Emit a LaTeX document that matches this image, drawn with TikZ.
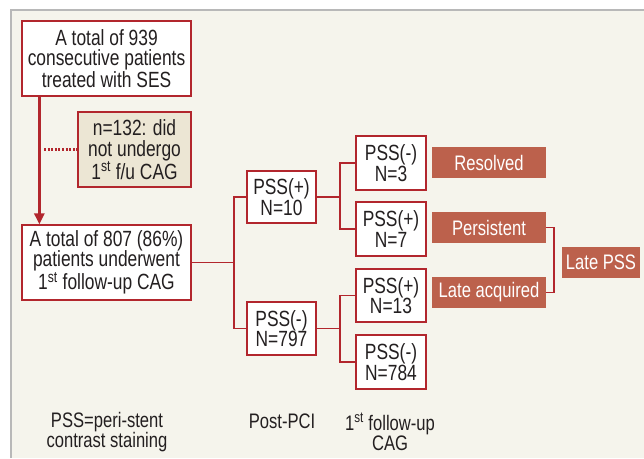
\documentclass[tikz,border=0pt]{standalone}
\usepackage{fontspec}
\setmainfont{Liberation Sans}[FakeStretch=0.79]
\usepackage{tikz}
\usetikzlibrary{arrows.meta}
\definecolor{bgbeige}{HTML}{F5F4EC}
\definecolor{framegrey}{HTML}{B8B8B8}
\definecolor{boxred}{HTML}{B2262D}
\definecolor{tanfill}{HTML}{ECE6D4}
\definecolor{outred}{HTML}{BC614C}
\definecolor{inkgrey}{HTML}{231F20}
\tikzstyle{box}=[draw=boxred,line width=1.3pt,fill=white,align=center,inner sep=0pt,text=inkgrey,font=\fontsize{22}{20.5}\selectfont]
\tikzstyle{tan box}=[box,fill=tanfill]
\tikzstyle{outcome}=[fill=outred,text=white,inner sep=0pt,minimum height=31pt,minimum width=114pt,font=\fontsize{21}{20}\selectfont]
\tikzstyle{edge}=[draw,line width=1.6pt,boxred]
\tikzstyle{caption}=[align=center,inner sep=0pt,text=inkgrey,font=\fontsize{21}{20}\selectfont]

\begin{document}
\begin{tikzpicture}[x=1pt,y=-1pt]
        \useasboundingbox (0,0) rectangle (644,458);
        % panel
        \fill[bgbeige] (11,10) rectangle (644,458);
        \draw[framegrey,line width=1.3pt] (11,458) -- (11,10) -- (644,10);
        % left column
        \node[box,minimum width=169pt,minimum height=75pt] (total939) at (106.5,58.5) {A total of 939\\consecutive patients\\treated with SES};
        \node[tan box,minimum width=113pt,minimum height=75pt] (n132) at (134.5,149.5) {n=132: did\\not undergo\\1\textsuperscript{st} f/u CAG};
        \node[box,minimum width=169pt,minimum height=75pt] (total807) at (106.5,262.5) {A total of 807 (86\%)\\patients underwent\\1\textsuperscript{st} follow-up CAG};
        % post-PCI
        \node[box,minimum width=69pt,minimum height=52pt] (pcipos) at (281.5,197) {PSS(+)\\N=10};
        \node[box,minimum width=69pt,minimum height=53pt] (pcineg) at (281.5,328.5) {PSS(-)\\N=797};
        % 1st follow-up CAG
        \node[box,minimum width=70pt,minimum height=54pt] (fuposneg) at (391,163) {PSS(-)\\N=3};
        \node[box,minimum width=70pt,minimum height=54pt] (fupospos) at (391,229) {PSS(+)\\N=7};
        \node[box,minimum width=70pt,minimum height=53pt] (funegpos) at (391,295.5) {PSS(+)\\N=13};
        \node[box,minimum width=70pt,minimum height=54pt] (funegneg) at (391,362) {PSS(-)\\N=784};
        % outcomes
        \node[outcome] (resolved) at (489,162.5) {Resolved};
        \node[outcome] (persistent) at (489,227.5) {Persistent};
        \node[outcome] (lateacq) at (489,292.5) {Late acquired};
        \node[outcome,minimum width=78pt] (latepss) at (601,262.5) {Late PSS};
        % captions
        \node[caption] (legend) at (107,432) {PSS=peri-stent\\contrast staining};
        \node[caption] (postpci) at (282,421) {Post-PCI};
        \node[caption] (fucag) at (390,432) {1\textsuperscript{st} follow-up\\CAG};
        % junctions
        \coordinate (splitpci) at (234,262.5);
        \coordinate (splitpos) at (340,197);
        \coordinate (splitneg) at (340,328.5);
        \coordinate (bracket) at (554,260);
        \coordinate (dotstart) at (44,149.5);
        \draw[boxred,line width=3pt,-{Triangle[width=10pt,length=11pt]}] ([xshift=18pt]total939.south west) -- ([xshift=18pt]total807.north west);
        \draw[boxred,line width=2.6pt,dash pattern=on 2pt off 1.6pt] (dotstart) -- (n132.west);
        \draw[edge] (total807.east) -- (splitpci);
        \draw[edge] (pcipos.west) -| (splitpci);
        \draw[edge] (pcineg.west) -| (splitpci);
        \draw[edge] (pcipos.east) -- (splitpos);
        \draw[edge] (fuposneg.west) -| (splitpos);
        \draw[edge] (fupospos.west) -| (splitpos);
        \draw[edge] (pcineg.east) -- (splitneg);
        \draw[edge] (funegpos.west) -| (splitneg);
        \draw[edge] (funegneg.west) -| (splitneg);
        \draw[edge] (persistent.east) -| (bracket) |- (lateacq.east);
      \end{tikzpicture}
\end{document}
